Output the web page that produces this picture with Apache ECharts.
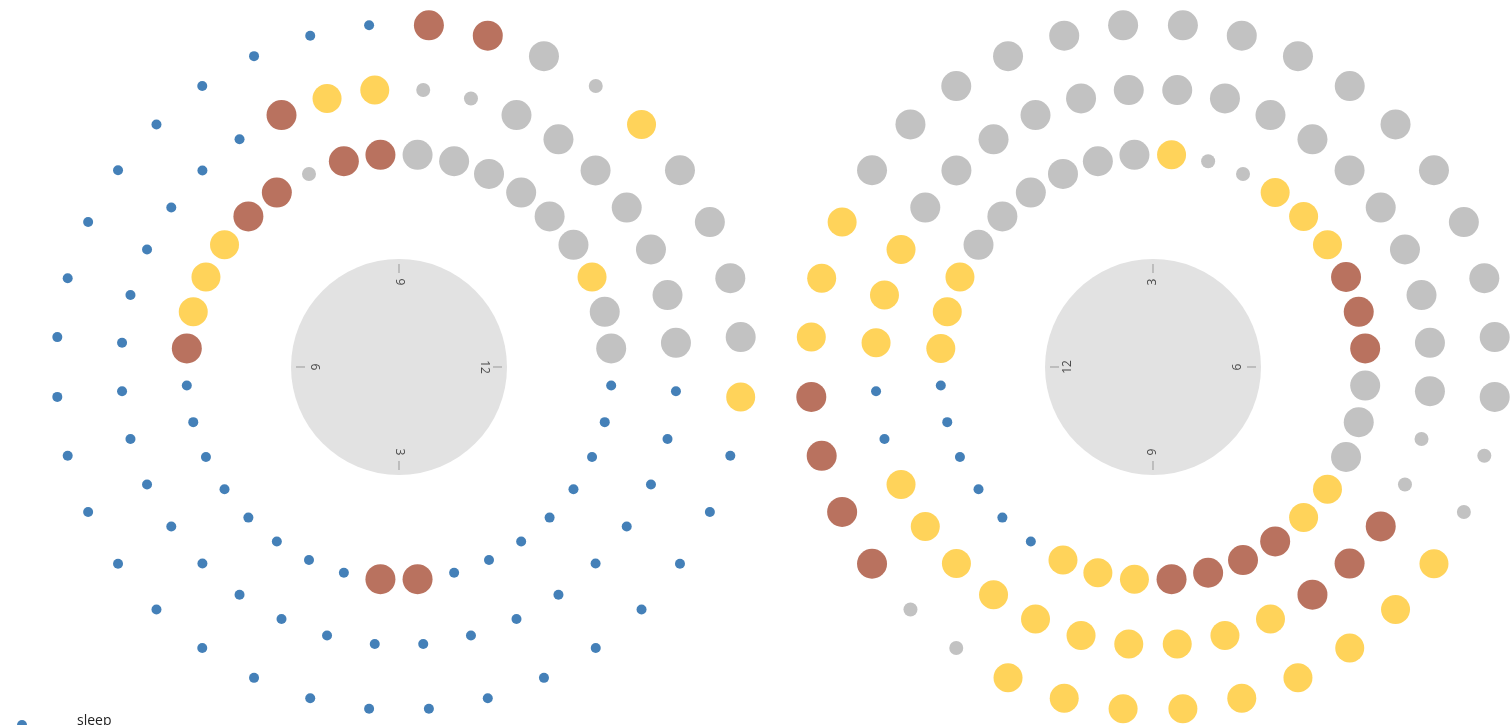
<!DOCTYPE html>
<html>
<head>
<meta charset="utf-8">
<script src="https://cdn.jsdelivr.net/npm/echarts@6/dist/echarts.min.js"></script>
<style>
html,body{margin:0;padding:0;background:#fff;}
#chart{width:1511px;height:725px;}
</style>
</head>
<body>
<div id="chart"></div>
<script>
// 36 twenty-minute slots per 12-hour ring (slot 0 starts at the top of each clock)
const leftSlots = [];
const rightSlots = [];
for (let i = 0; i < 36; i++) {
  const m = i * 20;
  const fmt = (h0) => {
    const h = ((h0 + Math.floor(m / 60) - 1) % 12) + 1;
    const mm = m % 60;
    return h + ':' + (mm < 10 ? '0' + mm : mm);
  };
  leftSlots.push(fmt(9));
  rightSlots.push(fmt(3));
}
const rings = ['ring 1', 'ring 2', 'ring 3'];

// state codes: s = sleep, a = awake, q = drowsy, f = feed, c = fuss
const leftRing1 = ['a','a','a','a','a','a','f','a','a','s','s','s','s','s','s','s','s','c','c','s','s','s','s','s','s','s','s','c','f','f','f','c','c','q','c','c'];
const leftRing2 = ['q','q','a','a','a','a','a','a','a','s','s','s','s','s','s','s','s','s','s','s','s','s','s','s','s','s','s','s','s','s','s','s','s','c','f','f'];
const leftRing3 = ['c','c','a','q','f','a','a','a','a','f','s','s','s','s','s','s','s','s','s','s','s','s','s','s','s','s','s','s','s','s','s','s','s','s','s','s'];
const rightRing1 = ['f','q','q','f','f','f','c','c','c','a','a','a','f','f','c','c','c','c','f','f','f','s','s','s','s','s','s','f','f','f','a','a','a','a','a','a'];
const rightRing2 = ['a','a','a','a','a','a','a','a','a','a','q','q','c','c','c','f','f','f','f','f','f','f','f','f','f','s','s','f','f','f','a','a','a','a','a','a'];
const rightRing3 = ['a','a','a','a','a','a','a','a','a','a','q','q','f','f','f','f','f','f','f','f','f','q','q','c','c','c','c','f','f','f','a','a','a','a','a','a'];

const clockTicks = [3, 6, 9, 12];

const states = [
  {code:'s', name:'sleep',  color:'#4480b8', size:10},
  {code:'a', name:'awake',  color:'#c2c2c2', size:30},
  {code:'q', name:'drowsy', color:'#c2c2c2', size:14},
  {code:'f', name:'feed',   color:'#ffd35a', size:29},
  {code:'c', name:'fuss',   color:'#b9725f', size:30}
];

const charts = [
  {center:[399,367], slots:leftSlots, rings:[leftRing1,leftRing2,leftRing3], clockStart:0, rot:-90},
  {center:[1153,367], slots:rightSlots, rings:[rightRing1,rightRing2,rightRing3], clockStart:180, rot:90}
];

const polar = [], angleAxis = [], radiusAxis = [], series = [];
const hidden = {axisLine:{show:false}, axisTick:{show:false}, axisLabel:{show:false}, splitLine:{show:false}};

charts.forEach((ch, ci) => {
  // dot rings
  polar.push({center:ch.center, radius:[180.5, 375.5]});
  angleAxis.push(Object.assign({type:'category', polarIndex:ci*2, data:ch.slots, startAngle:90, clockwise:true, boundaryGap:true}, hidden));
  radiusAxis.push(Object.assign({type:'category', polarIndex:ci*2, data:rings, boundaryGap:true}, hidden));
  // clock face (ticks sit just inside the grey disc)
  polar.push({center:ch.center, radius:[0, 103]});
  angleAxis.push({type:'value', polarIndex:ci*2+1, min:0, max:12, interval:3, startAngle:ch.clockStart, clockwise:true, z:10,
    axisLine:{show:false}, axisTick:{show:true, inside:true, length:9, lineStyle:{color:'#999999', width:1}},
    axisLabel:{show:false}, splitLine:{show:false}});
  radiusAxis.push(Object.assign({type:'value', polarIndex:ci*2+1, min:0, max:1}, hidden));

  series.push({type:'pie', center:ch.center, radius:[0,108], silent:true, z:-1, zlevel:0, label:{show:false}, labelLine:{show:false},
    itemStyle:{color:'#e2e2e2'}, emphasis:{disabled:true}, data:[{value:1, name:'face'}], animation:false});

  series.push({type:'scatter', coordinateSystem:'polar', polarIndex:ci*2+1, symbolSize:0, silent:true, z:5,
    data:clockTicks.map(h => ({value:[0.825, h % 12], name:String(h)})),
    label:{show:true, position:'inside', formatter:'{b}', rotate:ch.rot, color:'#222', fontSize:12, fontFamily:'Open Sans, sans-serif'},
    animation:false});

  states.forEach(st => {
    const data = [];
    ch.rings.forEach((ring, ri) => {
      ring.forEach((c, k) => { if (c === st.code) data.push([ri, k]); });
    });
    series.push({type:'scatter', name:st.name, coordinateSystem:'polar', polarIndex:ci*2, symbol:'circle',
      symbolSize:st.size, itemStyle:{color:st.color, opacity:1}, data:data, animation:false, z:3});
  });
});

const chart = echarts.init(document.getElementById('chart'));
chart.setOption({
  backgroundColor:'#ffffff',
  polar:polar, angleAxis:angleAxis, radiusAxis:radiusAxis,
  legend:{orient:'vertical', left:12, top:709, height:300, padding:[5,5,5,5], itemWidth:10, itemHeight:10, icon:'circle', itemGap:12,
    data:states.map(s => s.name),
    formatter: name => '{sp|}{n|' + name + '}',
    textStyle:{fontSize:14, color:'#222', fontFamily:'Open Sans, sans-serif',
      rich:{sp:{width:45}, n:{fontSize:14, color:'#222', fontFamily:'Open Sans, sans-serif', padding:[0,0,8,0]}}}},
  series:series
});
</script>
</body>
</html>
